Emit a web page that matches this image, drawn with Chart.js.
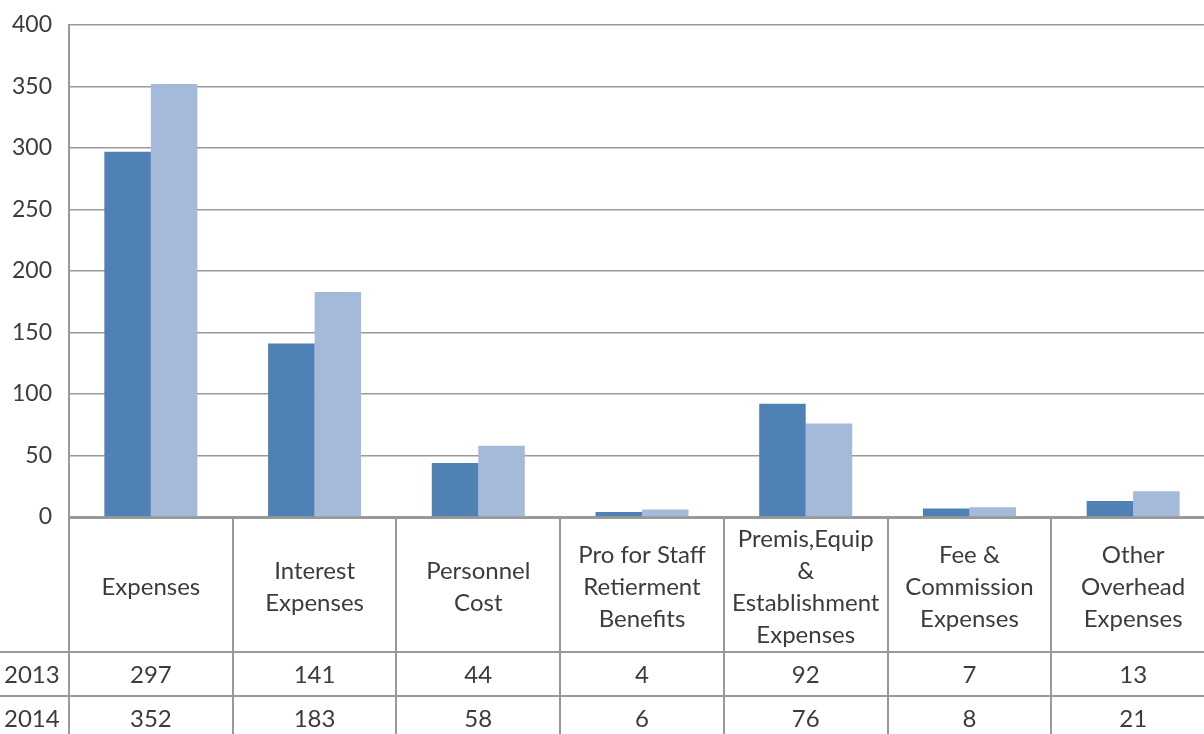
<!DOCTYPE html>
<html>
<head>
<meta charset="utf-8">
<script src="https://cdn.jsdelivr.net/npm/chart.js@4.4.1/dist/chart.umd.min.js"></script>
<style>
  html, body { margin: 0; padding: 0; background: #ffffff; overflow: hidden; }
  #wrap { position: relative; width: 1216px; height: 734px; }
</style>
</head>
<body>
<div id="wrap"><canvas id="chart" width="1216" height="734"></canvas></div>
<script>
// Expense categories (multi-line header labels for the data table)
const categories = [
  ["Expenses"],
  ["Interest", "Expenses"],
  ["Personnel", "Cost"],
  ["Pro for Staff", "Retierment", "Benefits"],
  ["Premis,Equip", "&", "Establishment", "Expenses"],
  ["Fee &", "Commission", "Expenses"],
  ["Other", "Overhead", "Expenses"]
];
const seriesNames = ["2013", "2014"];
const values2013 = [297, 141, 44, 4, 92, 7, 13];
const values2014 = [352, 183, 58, 6, 76, 8, 21];
const yTicks = [0, 50, 100, 150, 200, 250, 300, 350, 400];

const FONT = "Lato, 'Open Sans', sans-serif";
const TEXT = "#3c3c3c";
const LINE = "#999999";

// Data table drawn under the plot area, aligned with the category scale
const dataTable = {
  id: "dataTable",
  afterDraw(chart) {
    const ctx = chart.ctx;
    const x = chart.scales.x;
    const area = chart.chartArea;
    const n = categories.length;
    const w = (x.right - x.left) / n;
    const headerH = 135;
    const rowH = 44;
    const top = area.bottom;
    const rowsY = [top + headerH, top + headerH + rowH];
    const rows = [values2013, values2014];

    ctx.save();
    ctx.strokeStyle = LINE;
    ctx.lineWidth = 2;
    // vertical column separators
    for (let i = 0; i <= n; i++) {
      const px = Math.round(x.left + i * w);
      ctx.beginPath();
      ctx.moveTo(px, top);
      ctx.lineTo(px, chart.height);
      ctx.stroke();
    }
    // horizontal row separators
    rowsY.forEach(py => {
      ctx.beginPath();
      ctx.moveTo(0, py);
      ctx.lineTo(chart.width, py);
      ctx.stroke();
    });

    ctx.fillStyle = TEXT;
    ctx.font = "24px " + FONT;
    ctx.textAlign = "center";
    ctx.textBaseline = "middle";
    const lh = 32;
    const headMid = top + 70;
    categories.forEach((lines, i) => {
      const cx = x.getPixelForValue(i);
      const y0 = headMid - (lines.length - 1) * lh / 2;
      lines.forEach((t, k) => ctx.fillText(t, cx, y0 + k * lh));
    });

    rows.forEach((vals, r) => {
      const cy = rowsY[r] + rowH / 2 + 1;
      ctx.textAlign = "center";
      vals.forEach((v, i) => ctx.fillText(String(v), x.getPixelForValue(i), cy));
      ctx.textAlign = "left";
      ctx.fillText(seriesNames[r], 4, cy);
    });
    ctx.restore();
  }
};

new Chart(document.getElementById("chart"), {
  type: "bar",
  data: {
    labels: categories,
    datasets: [
      { label: seriesNames[0], data: values2013, backgroundColor: "#4f81b5" },
      { label: seriesNames[1], data: values2014, backgroundColor: "#a5b9d9" }
    ]
  },
  options: {
    responsive: false,
    animation: false,
    events: [],
    layout: { padding: { top: 25, right: 1, left: 0, bottom: 0 } },
    plugins: { legend: { display: false }, tooltip: { enabled: false } },
    datasets: { bar: { categoryPercentage: 0.568, barPercentage: 1.0 } },
    scales: {
      x: {
        ticks: { display: false },
        grid: { display: false },
        border: { display: true, color: LINE, width: 3 },
        afterFit(scale) { scale.height = 217; }
      },
      y: {
        min: 0,
        max: 400,
        afterBuildTicks(scale) { scale.ticks = yTicks.map(v => ({ value: v })); },
        ticks: { color: TEXT, font: { family: FONT, size: 23 }, padding: 17 },
        grid: { color: LINE, lineWidth: 1.5, drawTicks: false },
        border: { display: true, color: LINE, width: 2 },
        afterFit(scale) {
          scale.width = 69;
          scale.paddingTop = 0;
          scale.paddingBottom = 0;
        }
      }
    }
  },
  plugins: [dataTable]
});
</script>
</body>
</html>
